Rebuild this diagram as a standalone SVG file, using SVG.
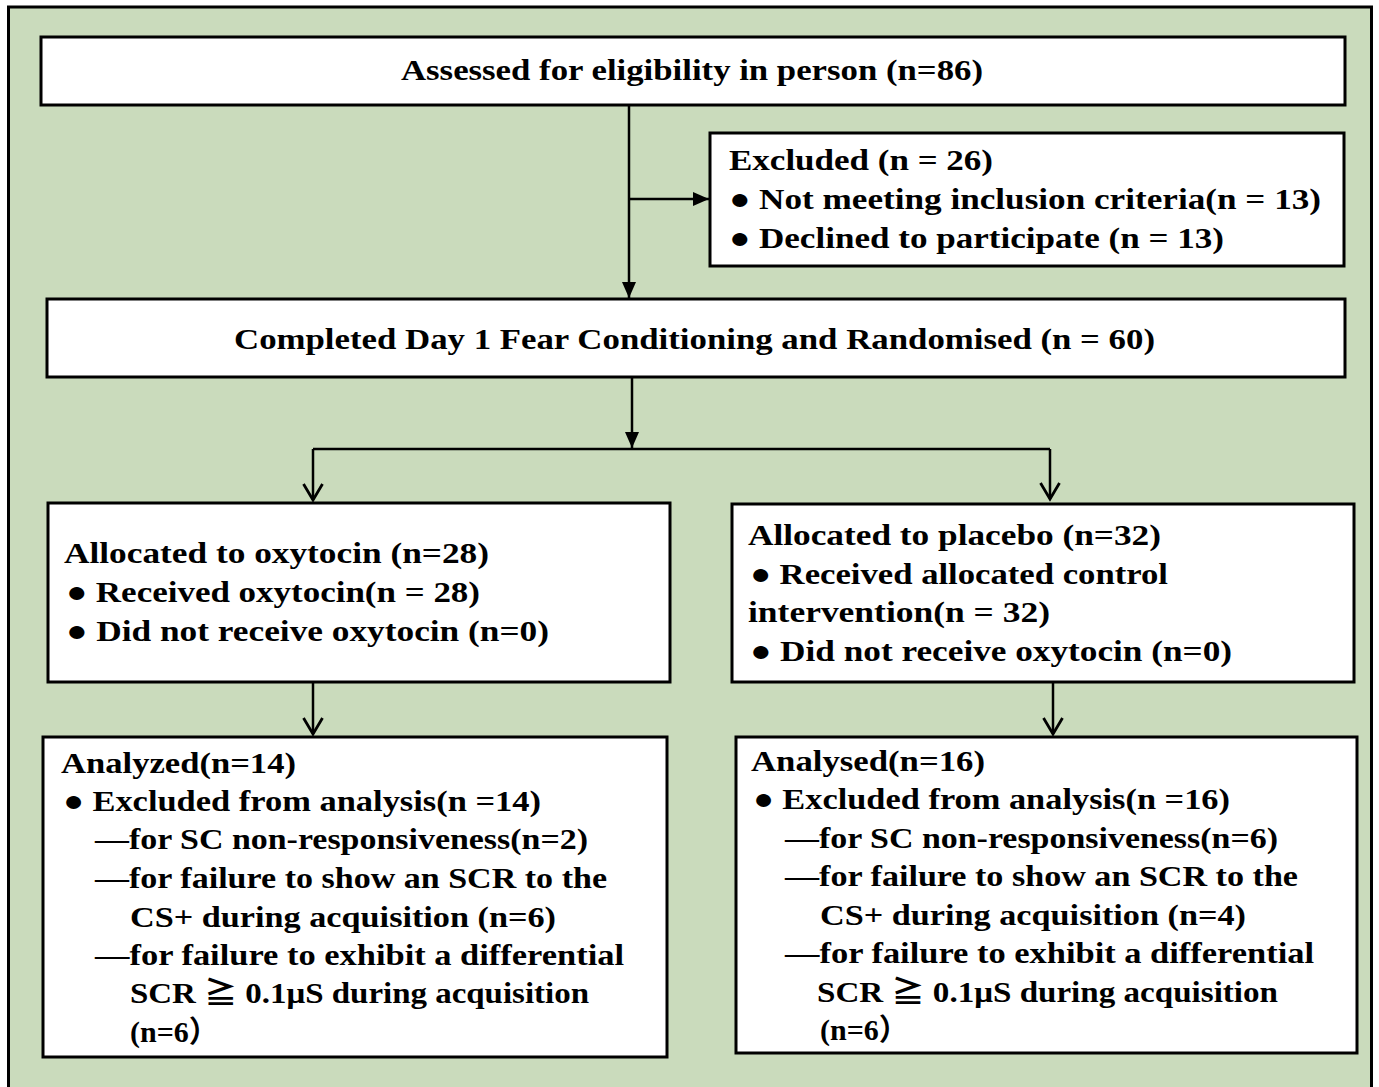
<svg xmlns="http://www.w3.org/2000/svg" width="1379" height="1087" viewBox="0 0 1379 1087">
<style>
.box{fill:#fff;stroke:#000;stroke-width:3}
.t{font-family:"Liberation Serif","Noto Sans CJK SC",serif;font-weight:bold;font-size:30px;fill:#000}
.c{fill:none;stroke:#000;stroke-width:2.5}
</style>
<defs>
<marker id="fa" markerUnits="userSpaceOnUse" markerWidth="16" markerHeight="14" viewBox="0 0 16 14" refX="16" refY="7" orient="auto"><path d="M0,0 L16,7 L0,14 z" fill="#000"/></marker>
<marker id="oa" markerUnits="userSpaceOnUse" markerWidth="20" markerHeight="22" viewBox="0 0 20 22" refX="17" refY="11" orient="auto"><path d="M1,1.5 L17,11 L1,20.5" fill="none" stroke="#000" stroke-width="2.8"/></marker>
</defs>
<rect x="8.5" y="7" width="1363" height="1090" fill="#CADBBC" stroke="#000" stroke-width="3"/>
<g id="connectors">
<path class="c" d="M629,105 V298" marker-end="url(#fa)"/>
<path class="c" d="M629,199 H709" marker-end="url(#fa)"/>
<path class="c" d="M632,377 V448" marker-end="url(#fa)"/>
<path class="c" d="M313,449 H1050"/>
<path class="c" d="M313,449 V500" marker-end="url(#oa)"/>
<path class="c" d="M1050,449 V499" marker-end="url(#oa)"/>
<path class="c" d="M313,682 V734" marker-end="url(#oa)"/>
<path class="c" d="M1053,682 V734" marker-end="url(#oa)"/>
</g>
<g id="assessed">
<rect class="box" x="41" y="37" width="1304" height="68"/>
<text class="t" x="401" y="80" textLength="582" lengthAdjust="spacingAndGlyphs">Assessed for eligibility in person (n=86)</text>
</g>
<g id="excluded">
<rect class="box" x="710" y="133" width="634" height="133"/>
<text class="t" x="729" y="170" textLength="264" lengthAdjust="spacingAndGlyphs">Excluded (n = 26)</text>
<text class="t" x="729" y="209" textLength="592" lengthAdjust="spacingAndGlyphs">● Not meeting inclusion criteria(n = 13)</text>
<text class="t" x="729" y="248" textLength="495" lengthAdjust="spacingAndGlyphs">● Declined to participate (n = 13)</text>
</g>
<g id="randomised">
<rect class="box" x="47" y="299" width="1298" height="78"/>
<text class="t" x="234" y="349" textLength="921" lengthAdjust="spacingAndGlyphs">Completed Day 1 Fear Conditioning and Randomised (n = 60)</text>
</g>
<g id="oxytocin">
<rect class="box" x="48" y="503" width="622" height="179"/>
<text class="t" x="64" y="563" textLength="425" lengthAdjust="spacingAndGlyphs">Allocated to oxytocin (n=28)</text>
<text class="t" x="66" y="602" textLength="414" lengthAdjust="spacingAndGlyphs">● Received oxytocin(n = 28)</text>
<text class="t" x="66" y="641" textLength="483" lengthAdjust="spacingAndGlyphs">● Did not receive oxytocin (n=0)</text>
</g>
<g id="placebo">
<rect class="box" x="732" y="504" width="622" height="178"/>
<text class="t" x="748" y="545" textLength="413" lengthAdjust="spacingAndGlyphs">Allocated to placebo (n=32)</text>
<text class="t" x="750" y="584" textLength="418" lengthAdjust="spacingAndGlyphs">● Received allocated control</text>
<text class="t" x="748" y="622" textLength="302" lengthAdjust="spacingAndGlyphs">intervention(n = 32)</text>
<text class="t" x="750" y="661" textLength="482" lengthAdjust="spacingAndGlyphs">● Did not receive oxytocin (n=0)</text>
</g>
<g id="analyzed-oxytocin">
<rect class="box" x="43" y="737" width="624" height="320"/>
<text class="t" x="61" y="773" textLength="235" lengthAdjust="spacingAndGlyphs">Analyzed(n=14)</text>
<text class="t" x="63" y="811" textLength="478" lengthAdjust="spacingAndGlyphs">● Excluded from analysis(n =14)</text>
<text class="t" x="95" y="849" textLength="493" lengthAdjust="spacingAndGlyphs">—for SC non-responsiveness(n=2)</text>
<text class="t" x="95" y="888" textLength="512" lengthAdjust="spacingAndGlyphs">—for failure to show an SCR to the</text>
<text class="t" x="130" y="927" textLength="426" lengthAdjust="spacingAndGlyphs">CS+ during acquisition (n=6)</text>
<text class="t" x="95" y="965" textLength="529" lengthAdjust="spacingAndGlyphs">—for failure to exhibit a differential</text>
<text class="t" x="130" y="1003" textLength="459" lengthAdjust="spacingAndGlyphs">SCR ≧ 0.1μS during acquisition</text>
<text class="t" x="130" y="1042">(n=6）</text>
</g>
<g id="analysed-placebo">
<rect class="box" x="736" y="737" width="621" height="316"/>
<text class="t" x="751" y="771" textLength="234" lengthAdjust="spacingAndGlyphs">Analysed(n=16)</text>
<text class="t" x="753" y="809" textLength="477" lengthAdjust="spacingAndGlyphs">● Excluded from analysis(n =16)</text>
<text class="t" x="785" y="848" textLength="493" lengthAdjust="spacingAndGlyphs">—for SC non-responsiveness(n=6)</text>
<text class="t" x="785" y="886" textLength="513" lengthAdjust="spacingAndGlyphs">—for failure to show an SCR to the</text>
<text class="t" x="820" y="925" textLength="426" lengthAdjust="spacingAndGlyphs">CS+ during acquisition (n=4)</text>
<text class="t" x="785" y="963" textLength="529" lengthAdjust="spacingAndGlyphs">—for failure to exhibit a differential</text>
<text class="t" x="817" y="1002" textLength="461" lengthAdjust="spacingAndGlyphs">SCR ≧ 0.1μS during acquisition</text>
<text class="t" x="820" y="1040">(n=6）</text>
</g>
</svg>
